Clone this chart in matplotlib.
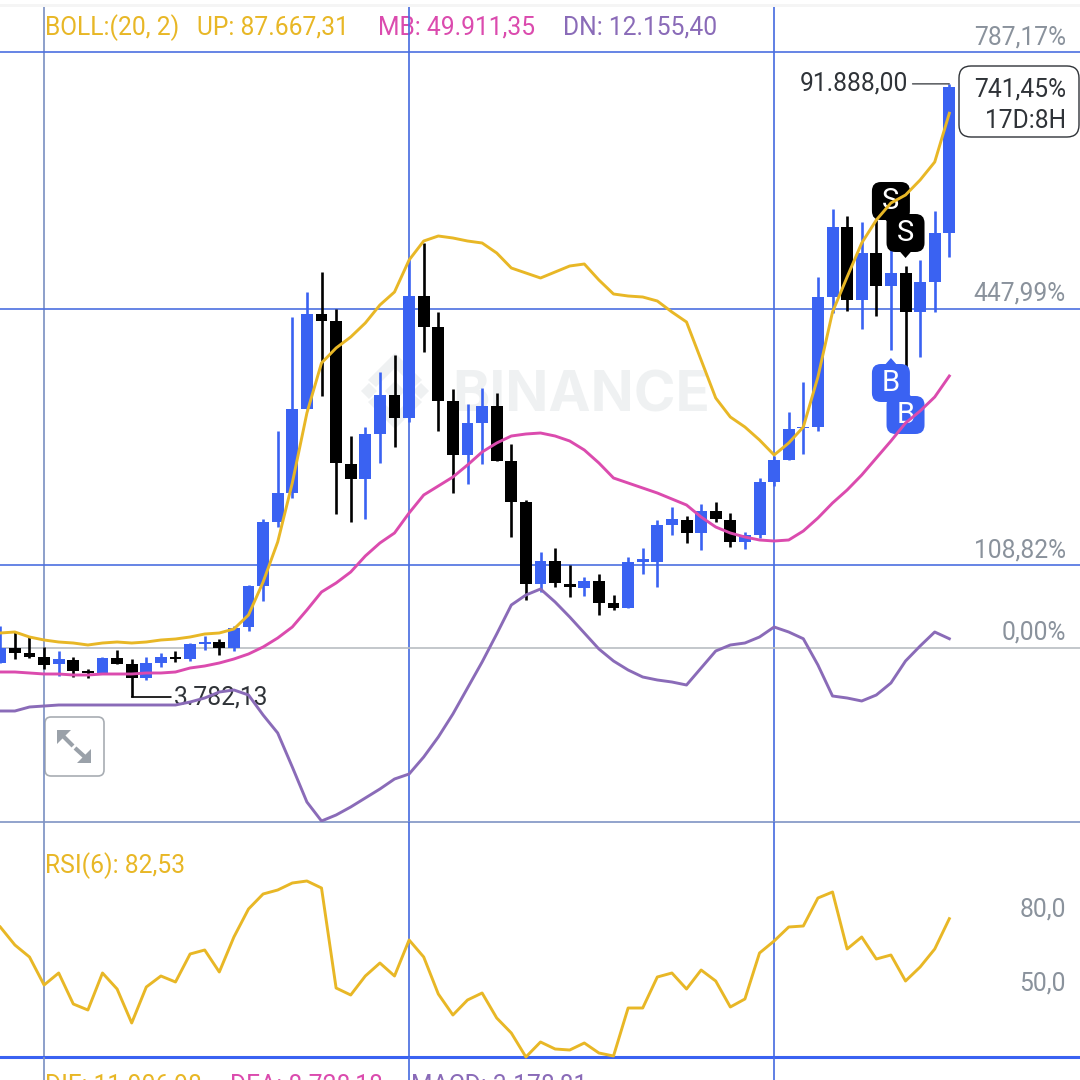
import matplotlib
matplotlib.use('Agg')
import matplotlib.pyplot as plt
import numpy as np
from matplotlib.patches import FancyBboxPatch, Polygon, Rectangle
from matplotlib.transforms import IdentityTransform

plt.rcParams['font.family'] = ['Roboto', 'DejaVu Sans']

# candles, oldest first
opens = [8669, 10824, 10106, 9531, 8525, 9100, 7519, 7232, 9387, 8525, 6513, 8669, 9531, 9243, 11399, 11686, 10824,
         13842, 19733, 28930, 33098, 45168, 58820, 57814, 37265, 35109, 41576, 47180, 43875, 61406, 56952, 46318,
         38558, 43157, 45599, 37696, 31804, 20021, 23326, 20021, 19446, 20452, 17291, 16572, 23182, 23182, 28499,
         29218, 27350, 30511, 29218, 26056, 27062, 34678, 37840, 42438, 42582, 61263, 71322, 60832, 67586, 62843,
         64712, 59107, 63418, 70460]
highs = [13985, 13123, 12405, 10968, 10393, 9531, 7806, 9531, 10537, 9243, 9531, 10106, 10393, 11542, 12548, 12117,
         13985, 19877, 29361, 42007, 58389, 61981, 64855, 59538, 41288, 42582, 50485, 52928, 66867, 69023, 59107,
         48042, 45887, 48186, 47468, 40139, 32092, 24619, 25194, 22751, 21027, 21458, 18440, 23901, 25194, 29218,
         31086, 29792, 31517, 31804, 30224, 27493, 35253, 38414, 44737, 49048, 64137, 73908, 72902, 72040, 72328,
         68448, 65717, 66580, 73621, 91888]
lows = [8669, 9243, 9387, 7806, 6800, 6657, 6513, 7088, 8525, 3782, 6226, 8094, 8812, 8956, 10537, 9818, 10393,
        13267, 17578, 28212, 32379, 45168, 47036, 30080, 28930, 29361, 37409, 39708, 43300, 53359, 42007, 33098,
        34391, 37265, 37696, 26775, 17722, 18871, 19590, 18153, 18296, 15566, 16285, 16572, 21458, 19590, 27062,
        25913, 24907, 28930, 25338, 25050, 26631, 34103, 37840, 38702, 42007, 58964, 59251, 56664, 58532, 53647,
        51204, 52641, 59107, 67011]
closes = [10824, 10106, 9531, 8381, 9243, 7519, 7232, 9387, 8525, 6513, 8669, 9531, 9243, 11399, 11686, 10824, 13698,
          19733, 28930, 33098, 45168, 58820, 57814, 37409, 35109, 41576, 47180, 43875, 61406, 56952, 46318, 38558,
          43157, 45599, 37696, 31804, 20021, 23326, 20165, 19590, 20452, 17291, 16572, 23182, 23613, 28499, 29361,
          27350, 30511, 29361, 26056, 27062, 34678, 37840, 42294, 42582, 61263, 71322, 60832, 67586, 62843, 64712,
          59107, 63418, 70460, 91440]

# bollinger bands
boll_up = [12980, 13123, 12405, 11974, 11686, 11542, 11255, 11542, 11686, 11542, 11686, 11974, 12117, 12405, 12836,
           12980, 13554, 15566, 20308, 26056, 34535, 44594, 51779, 53934, 55515, 57527, 60113, 61981, 66580, 69310,
           70028, 69741, 69310, 69023, 67586, 65430, 64712, 63993, 64855, 65717, 66005, 63706, 61694, 61406, 61263,
           60688, 59107, 57670, 52210, 46749, 44019, 42582, 40714, 38558, 40283, 42582, 49767, 59107, 64137, 69023,
           72328, 74771, 75920, 78076, 80662, 87667]
boll_mb = [7375, 7375, 7232, 7088, 7088, 6944, 6944, 7088, 7088, 7088, 7232, 7232, 7375, 7950, 8237, 8669, 9243, 9962,
           10968, 12261, 13842, 16285, 18871, 20165, 21745, 24044, 25913, 27350, 30224, 32810, 34103, 35397, 37121,
           38989, 40283, 41288, 41576, 41720, 41288, 40570, 39277, 37409, 35253, 34535, 33816, 33098, 32235, 31373,
           29649, 28212, 27350, 26775, 26344, 26200, 26344, 27637, 29505, 31661, 33529, 35684, 38127, 40570, 43157,
           44881, 46893, 49911]
boll_dn = [1771, 1771, 2346, 2489, 2633, 2633, 2633, 2633, 2633, 2633, 2633, 2633, 2633, 3064, 3639, 4501, 4789, 4070,
           1196, -1391, -6276, -11306, -14036, -13174, -12024, -10731, -9438, -8001, -7282, -4839, -1965, 1340, 5076,
           8812, 12836, 17003, 18440, 19302, 17434, 15279, 12980, 10680, 8956, 7663, 6657, 6226, 5938, 5507, 7950,
           10393, 11255, 11542, 12405, 13842, 13123, 12155, 8381, 3926, 3639, 3208, 4070, 5794, 8956, 11111, 13123,
           12155]

rsi = [79.2, 72, 67.2, 56, 60.8, 48.4, 46, 60.8, 54.4, 40.8, 55.2, 59.6, 57.2, 68.4, 70, 61.2, 75.2, 86.4, 92.4, 94,
       96.8, 97.6, 94.8, 54.8, 52, 59.6, 64.8, 59.6, 74, 67.2, 52.4, 44, 50, 52.8, 42.8, 36.8, 27.2, 33.2, 30.4, 30,
       32.8, 28.8, 27.6, 46.8, 46.8, 59.2, 60.8, 54.4, 62, 57.6, 47.2, 50.4, 68.8, 73.6, 79.2, 79.6, 90.8, 93.2, 70.4,
       75.2, 66.4, 68, 57.6, 63.2, 70.4, 82.53]

# buy / sell flags (candle index, price)
sell_idx = [61, 62]
sell_price = [71465, 66867]
buy_idx = [61, 62]
buy_price = [52497, 47899]

base_price = 10870
pct_ticks = [787.17, 447.99, 108.82, 0.0]
pct_labels = ['787,17%', '447,99%', '108,82%', '0,00%']
rsi_ticks = [80, 50]
rsi_labels = ['80,0', '50,0']
grid_idx = [3, 28, 53]

BLUE = '#3A62F2'
YELLOW = '#E8B726'
PINK = '#DB4BAE'
PURPLE = '#8A6BB8'
GRID = '#4C6FE0'
GREY = '#8A929C'
DARK = '#2F3338'
FS = 17.7
LW = 2.1

fig = plt.figure(figsize=(10.8, 10.8), dpi=100)


def rect(top, bottom):
    return [0, 1 - bottom / 1080, 1, (bottom - top) / 1080]


# pixel layer under everything: watermark and chrome
pix = fig.add_axes([0, 0, 1, 1], zorder=0)
pix.set_xlim(0, 1080)
pix.set_ylim(1080, 0)
pix.axis('off')
ax = fig.add_axes(rect(7, 822), zorder=1)
ax_rsi = fig.add_axes(rect(822, 1057), zorder=1)
ax_macd = fig.add_axes(rect(1057, 1080), zorder=1)

xs = np.arange(len(opens))
for a in (ax, ax_rsi, ax_macd):
    a.set_xlim(-0.02, 73.95)
    a.axis('off')
    for j, g in enumerate(grid_idx):
        a.axvline(g, color='#7F93C4' if j == 0 else GRID, lw=1.25, zorder=1)
ax.set_ylim(-14180, 102936)
ax_rsi.set_ylim(27.2, 121.2)

# price grid + percent labels
for p, lab in zip(pct_ticks, pct_labels):
    price = base_price * (1 + p / 100)
    ax.axhline(price, color='#B9BDC2' if p == 0 else GRID, lw=1.2, zorder=1)
    ax.annotate(lab, xy=(1, price), xycoords=ax.get_yaxis_transform(), xytext=(-14, 15),
                textcoords='offset pixels', ha='right', va='center', color=GREY, fontsize=FS)
ax.axhline(-14180, color='#7F93C4', lw=1.2, zorder=1, clip_on=False)

# candles
o = np.array(opens)
c = np.array(closes)
colors = [BLUE if cl >= op else 'black' for op, cl in zip(opens, closes)]
ax.vlines(xs, lows, highs, colors=colors, lw=1.9, zorder=2)
ax.bar(xs, np.abs(c - o), bottom=np.minimum(o, c), width=0.82, color=colors, zorder=2.5)


# S / B flags sit under the boll lines
def flag(i, price, letter, color, up):
    x, y = ax.transData.transform((i, price))
    size = 38
    r = 9
    gap = 6
    y0 = y + gap if up else y - gap - size
    t = IdentityTransform()
    ax.add_patch(FancyBboxPatch((x - size / 2 + r, y0 + r), size - 2 * r, size - 2 * r,
                                boxstyle=f'round,pad={r},rounding_size={r}', fc=color, ec='none',
                                transform=t, zorder=3))
    edge = y + gap + 2 if up else y - gap - 2
    ax.add_patch(Polygon([(x - 7, edge), (x + 7, edge), (x, y)], fc=color, ec='none', transform=t, zorder=3))
    ax.text(x, y0 + size / 2, letter, color='white', fontsize=21, ha='center', va='center', transform=t, zorder=3.5)


for i, p in zip(sell_idx, sell_price):
    flag(i, p, 'S', 'black', True)
for i, p in zip(buy_idx, buy_price):
    flag(i, p, 'B', BLUE, False)

ax.plot(xs, boll_dn, color=PURPLE, lw=LW, zorder=4)
ax.plot(xs, boll_mb, color=PINK, lw=LW, zorder=4)
ax.plot(xs, boll_up, color=YELLOW, lw=LW, zorder=4)

# high / low callouts
ax.annotate('91.888,00', xy=(65, max(highs)), xytext=(-41, 0), textcoords='offset pixels', ha='right', va='center',
            color=DARK, fontsize=FS, arrowprops=dict(arrowstyle='-', color=DARK, lw=0.9, shrinkA=1, shrinkB=0))
ax.annotate('3.782,13', xy=(9, min(lows)), xytext=(42, 0), textcoords='offset pixels', ha='left', va='center',
            color=DARK, fontsize=FS, arrowprops=dict(arrowstyle='-', color='black', lw=1.2, shrinkA=0, shrinkB=0))

# rsi panel
ax_rsi.plot(xs, rsi, color=YELLOW, lw=LW, zorder=4, clip_on=False)
ax_rsi.axhline(27.2, color=BLUE, lw=2.2, zorder=2, clip_on=False)
for v, lab in zip(rsi_ticks, rsi_labels):
    ax_rsi.annotate(lab, xy=(1, v), xycoords=ax_rsi.get_yaxis_transform(), xytext=(-14, 16),
                    textcoords='offset pixels', ha='right', va='center', color=GREY, fontsize=FS)

# top strip
pix.add_patch(Rectangle((0, 4), 1080, 3, fc='#F5F5F5', ec='none'))

# headers
for x, txt, col in [(45, 'BOLL:(20, 2)', YELLOW), (197, 'UP: 87.667,31', YELLOW),
                    (378, 'MB: 49.911,35', PINK), (563, 'DN: 12.155,40', PURPLE)]:
    pix.text(x, 28, txt, color=col, fontsize=FS, va='center', ha='left')
pix.text(45, 866, 'RSI(6): 82,53', color=YELLOW, fontsize=FS, va='center', ha='left')
for x, txt, col in [(45, 'DIF: 11.906,98', YELLOW), (230, 'DEA: 8.728,18', PINK), (411, 'MACD: 3.178,81', PURPLE)]:
    pix.text(x, 1086, txt, color=col, fontsize=FS, va='center', ha='left')

# watermark
WM = '#EFF1F2'
pix.text(452, 411, 'BINANCE', color=WM, fontsize=40.7, family='Inter', fontweight='bold', va='baseline', ha='left')
cx, cy = 395, 391
pix.add_patch(Polygon([(cx - 10, cy), (cx, cy - 10), (cx + 10, cy), (cx, cy + 10)], fc=WM, ec='none'))
for sx in (-26, 26):
    pix.add_patch(Polygon([(cx + sx - 8, cy), (cx + sx, cy - 8), (cx + sx + 8, cy), (cx + sx, cy + 8)], fc=WM, ec='none'))
for s in (-1, 1):
    pix.add_patch(Polygon([(cx - 27, cy + s * 11), (cx, cy + s * 38), (cx + 27, cy + s * 11), (cx + 19, cy + s * 4),
                           (cx, cy + s * 23), (cx - 19, cy + s * 4)], fc=WM, ec='none'))

# value box
pix.add_patch(FancyBboxPatch((969, 76), 100, 51, boxstyle='round,pad=10,rounding_size=12', fc='white', ec=DARK, lw=1.0))
pix.text(1066, 89, '741,45%', color=DARK, fontsize=FS, ha='right', va='center')
pix.text(1066, 121, '17D:8H', color=DARK, fontsize=FS, ha='right', va='center')

# expand icon
pix.add_patch(FancyBboxPatch((52, 724), 45, 45, boxstyle='round,pad=7,rounding_size=6', fc='white', ec='#A8ADB3', lw=1.2))
ICON = '#9AA1A9'
pix.add_patch(Polygon([(57, 730), (71, 730), (57, 744)], fc=ICON, ec='none'))
pix.add_patch(Polygon([(91, 763), (77, 763), (91, 749)], fc=ICON, ec='none'))
pix.plot([62, 73], [735, 746], color=ICON, lw=3, solid_capstyle='butt')
pix.plot([86, 75], [758, 748], color=ICON, lw=3, solid_capstyle='butt')

fig.savefig('out.png', dpi=100)
